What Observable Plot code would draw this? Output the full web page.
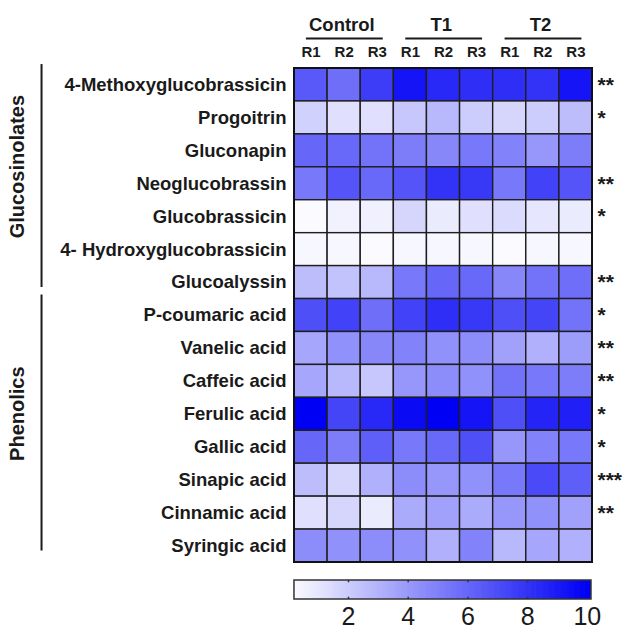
<!DOCTYPE html>
<html>
<head>
<meta charset="utf-8">
<script src="https://cdn.jsdelivr.net/npm/d3@7"></script>
<script src="https://cdn.jsdelivr.net/npm/@observablehq/plot@0.6"></script>
<style>
  html, body { margin: 0; padding: 0; background: #ffffff; }
  #chart svg { display: block; }
  #chart { width: 631px; }
</style>
</head>
<body>
<div id="chart"></div>
<script>
// ---- data ----
const columns = ["C-R1","C-R2","C-R3","T1-R1","T1-R2","T1-R3","T2-R1","T2-R2","T2-R3"];
const columnLabels = ["R1","R2","R3","R1","R2","R3","R1","R2","R3"];
const groups = ["Control","T1","T2"];
const compounds = [
  "4-Methoxyglucobrassicin","Progoitrin","Gluconapin","Neoglucobrassin",
  "Glucobrassicin","4- Hydroxyglucobrassicin","Glucoalyssin",
  "P-coumaric acid","Vanelic acid","Caffeic acid","Ferulic acid",
  "Gallic acid","Sinapic acid","Cinnamic acid","Syringic acid"
];
const classes = ["Glucosinolates","Phenolics"];
const classRows = [[0,6],[7,14]];
const significance = ["**","*","","**","*","","**","*","**","**","*","*","***","**",""];
const values = [
  [6.5,5.7,7.6, 9.2,8.4,8.2, 8.2,8.0,9.2],
  [1.8,1.2,1.2, 2.2,2.8,2.0, 1.6,2.0,2.6],
  [6.0,5.9,5.5, 5.1,4.7,5.3, 4.9,4.1,5.1],
  [5.3,6.7,5.9, 6.7,8.0,7.8, 5.3,7.4,6.7],
  [0.2,0.5,0.6, 1.6,0.8,1.2, 1.4,1.0,0.8],
  [0.3,0.3,0.2, 0.3,0.3,0.3, 0.2,0.3,0.3],
  [2.6,2.4,2.8, 5.3,6.0,5.9, 4.7,5.5,5.7],
  [6.9,7.4,5.7, 7.4,8.2,7.8, 6.9,7.3,5.5],
  [3.5,4.3,4.7, 4.9,4.3,4.5, 3.7,3.1,3.9],
  [3.5,2.8,2.2, 4.1,4.5,4.3, 5.5,5.3,5.1],
  [10.0,7.3,8.4, 9.6,10.0,9.2, 6.9,8.6,8.8],
  [6.0,5.1,6.3, 5.3,5.9,6.9, 4.1,4.9,5.3],
  [2.6,1.6,3.1, 4.5,4.1,4.3, 5.3,7.1,6.3],
  [1.2,1.6,0.8, 3.3,3.7,3.3, 4.1,4.3,3.7],
  [4.5,4.3,4.5, 4.3,3.1,4.9, 2.8,3.5,3.1]
];
const colorTicks = [2,4,6,8,10];

// ---- tables built from the arrays ----
const cells = [];
compounds.forEach((c, r) => columns.forEach((col, i) => cells.push({row: r, col: i, value: values[r][i]})));
const rowsT = compounds.map((c, r) => ({row: r, name: c, sig: significance[r]}));
const colsT = columnLabels.map((l, i) => ({col: i, label: l}));
const groupsT = groups.map((g, k) => ({k, name: g}));
const classT = classes.map((c, k) => ({name: c, r0: classRows[k][0], r1: classRows[k][1]}));

const colorScale = {type: "linear", domain: [0, 10], range: ["#ffffff", "#0000f5"], clamp: true};
const FONT = "'Liberation Sans', Arial, Helvetica, sans-serif";

const main = Plot.plot({
  width: 631,
  height: 566,
  marginLeft: 294,
  marginRight: 39,
  marginTop: 68,
  marginBottom: 4,
  style: {fontFamily: FONT, color: "#1a1a1a", background: "white", overflow: "visible"},
  x: {domain: [0, 9], axis: null},
  y: {domain: [0, 15], range: [68, 562], axis: null},
  color: colorScale,
  marks: [
    Plot.rect(cells, {
      x1: d => d.col, x2: d => d.col + 1,
      y1: d => d.row, y2: d => d.row + 1,
      fill: "value", stroke: "#1e1e1e", strokeWidth: 1.4
    }),
    Plot.rect([0], {x1: 0, x2: 9, y1: 0, y2: 15, fill: "none", stroke: "#111", strokeWidth: 2}),
    // row labels
    Plot.text(rowsT, {x: 0, y: d => d.row + 0.5, text: "name", dx: -8, textAnchor: "end",
      fontSize: 18.5, fontWeight: "bold", fill: "#1a1a1a"}),
    // significance stars
    Plot.text(rowsT, {x: 9, y: d => d.row + 0.5, text: "sig", dx: 5, textAnchor: "start",
      fontSize: 21, fontWeight: "bold", fill: "#1a1a1a"}),
    // column labels
    Plot.text(colsT, {x: d => d.col + 0.5, y: -0.49, text: "label", fontSize: 15, fontWeight: "bold", fill: "#1a1a1a"}),
    // group labels + underlines
    Plot.text(groupsT, {x: d => d.k * 3 + 1.43, y: -1.31, text: "name", fontSize: 18.5, fontWeight: "bold", fill: "#1a1a1a"}),
    Plot.ruleY(groupsT, {y: -0.91, x1: d => d.k * 3 + 0.36, x2: d => d.k * 3 + 2.68, stroke: "#1a1a1a", strokeWidth: 2}),
    // class brackets
    Plot.ruleX(classT, {x: -7.64, y1: d => d.r0 - 0.12, y2: d => d.r1 + 0.65, stroke: "#1a1a1a", strokeWidth: 2}),
    Plot.text(classT, {x: -8.37, y: d => (d.r0 + d.r1 + 1) / 2 - 0.52, text: "name", rotate: -90,
      fontSize: 20, fontWeight: "bold", fill: "#1a1a1a"})
  ]
});

// ---- colour bar ----
const vMin = 0.19, vMax = 10.14, step = 0.04;
const grad = d3.range(vMin, vMax, step);
const bar = Plot.plot({
  width: 631,
  height: 66,
  marginLeft: 0, marginRight: 0, marginTop: 0, marginBottom: 0,
  style: {fontFamily: FONT, color: "#1a1a1a", background: "white", overflow: "visible"},
  x: {domain: [0, 10], range: [288.3, 586.8], axis: null},
  y: {domain: [0, 1], range: [14, 33], axis: null},
  color: colorScale,
  marks: [
    Plot.rect(grad, {x1: d => d, x2: d => Math.min(vMax, d + step * 1.6), y1: 0, y2: 1, fill: d => d}),
    Plot.rect([0], {x1: vMin, x2: vMax, y1: 0, y2: 1, fill: "none", stroke: "#333", strokeWidth: 1.5}),
    Plot.ruleX(colorTicks.slice(0, 4), {y1: 0, y2: 0.12, stroke: "#333", strokeWidth: 1.5}),
    Plot.ruleX(colorTicks.slice(0, 4), {y1: 0.88, y2: 1, stroke: "#333", strokeWidth: 1.5}),
    Plot.text(colorTicks, {x: d => d, y: 1.9, text: d => String(d), fontSize: 25, fill: "#1a1a1a"})
  ]
});

const el = document.getElementById("chart");
el.appendChild(main);
el.appendChild(bar);
</script>
</body>
</html>
